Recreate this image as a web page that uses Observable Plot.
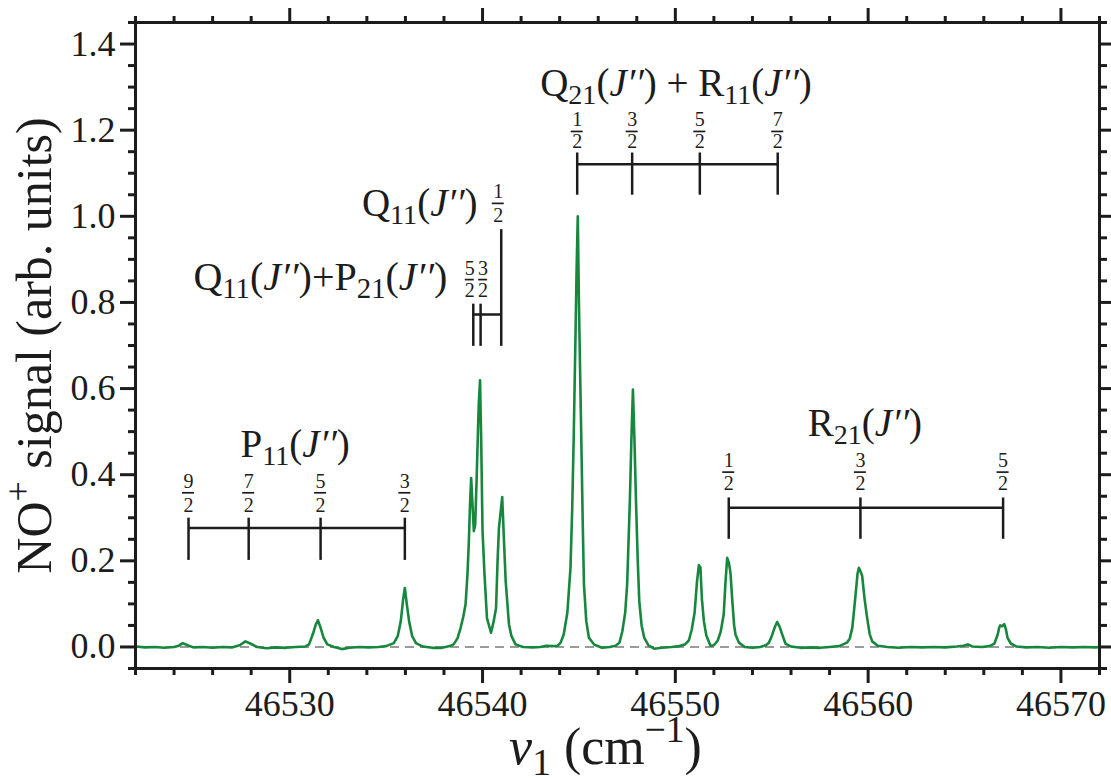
<!DOCTYPE html>
<html><head><meta charset="utf-8">
<script src="https://cdn.jsdelivr.net/npm/d3@7"></script>
<script src="https://cdn.jsdelivr.net/npm/@observablehq/plot@0.6"></script>
<style>body{margin:0;background:#fff}#chart svg{display:block}</style>
</head><body><div id="chart"></div>
<script>
// ---- data ----
const wavenumber = [46522.0,46522.5,46523.0,46523.5,46524.0,46524.25,46524.45,46524.7,46525.0,46525.5,46526.0,46526.5,46527.0,46527.4,46527.7,46527.95,46528.3,46528.8,46529.3,46529.8,46530.3,46530.8,46531.0,46531.2,46531.35,46531.46,46531.6,46531.75,46531.95,46532.3,46532.7,46533.1,46533.6,46534.1,46534.6,46535.0,46535.4,46535.6,46535.76,46535.88,46535.97,46536.07,46536.19,46536.35,46536.55,46536.9,46537.4,46537.9,46538.3,46538.5,46538.7,46538.86,46539.0,46539.12,46539.22,46539.29,46539.35,46539.41,46539.48,46539.55,46539.62,46539.7,46539.8,46539.87,46539.93,46540.0,46540.1,46540.23,46540.44,46540.58,46540.7,46540.78,46540.85,46541.02,46541.1,46541.2,46541.37,46541.5,46541.71,46542.1,46542.6,46543.0,46543.3,46543.6,46543.9,46544.05,46544.21,46544.4,46544.56,46544.65,46544.73,46544.82,46544.88,46544.94,46545.0,46545.06,46545.12,46545.2,46545.26,46545.38,46545.52,46545.8,46546.2,46546.6,46546.9,46547.1,46547.25,46547.4,46547.5,46547.64,46547.72,46547.8,46547.88,46547.96,46548.05,46548.13,46548.25,46548.39,46548.6,46548.9,46549.3,46549.8,46550.2,46550.5,46550.7,46550.85,46551.0,46551.12,46551.22,46551.3,46551.38,46551.48,46551.6,46551.82,46552.0,46552.2,46552.35,46552.51,46552.6,46552.69,46552.78,46552.86,46552.95,46553.05,46553.12,46553.3,46553.6,46554.0,46554.4,46554.7,46554.85,46555.0,46555.15,46555.28,46555.4,46555.55,46555.71,46556.0,46556.5,46557.0,46557.5,46558.0,46558.5,46558.9,46559.05,46559.18,46559.35,46559.45,46559.52,46559.6,46559.69,46559.82,46559.95,46560.08,46560.21,46560.5,46561.0,46561.6,46562.2,46562.8,46563.4,46564.0,46564.6,46564.95,46565.17,46565.4,46565.9,46566.3,46566.55,46566.72,46566.8,46566.85,46566.95,46567.06,46567.15,46567.23,46567.4,46567.7,46568.2,46568.8,46569.4,46570.0,46570.6,46571.2,46571.8,46572.0];
const signal = [0.001,-0.001,0.000,-0.002,0.000,0.003,0.009,0.004,-0.001,0.000,-0.002,0.000,-0.001,0.004,0.013,0.008,0.000,-0.003,-0.001,-0.002,0.000,0.001,0.006,0.030,0.052,0.062,0.045,0.022,0.006,0.000,-0.005,-0.002,0.000,-0.001,0.000,0.002,0.009,0.025,0.060,0.110,0.137,0.100,0.060,0.025,0.009,0.001,-0.002,-0.002,0.002,0.006,0.020,0.044,0.070,0.099,0.170,0.245,0.330,0.392,0.330,0.269,0.285,0.400,0.560,0.619,0.480,0.270,0.170,0.067,0.033,0.060,0.090,0.200,0.276,0.348,0.260,0.153,0.053,0.025,0.006,0.000,-0.001,0.000,0.003,0.002,0.003,0.010,0.029,0.080,0.183,0.320,0.490,0.720,0.880,1.000,0.800,0.640,0.490,0.280,0.145,0.060,0.021,0.005,-0.002,0.000,0.003,0.010,0.036,0.080,0.145,0.338,0.480,0.598,0.480,0.338,0.200,0.106,0.050,0.021,0.004,-0.004,-0.002,0.000,0.002,0.006,0.015,0.040,0.080,0.150,0.190,0.185,0.110,0.060,0.028,0.003,0.004,0.015,0.035,0.076,0.150,0.207,0.195,0.172,0.110,0.050,0.029,0.010,0.000,-0.002,0.000,0.004,0.010,0.025,0.045,0.058,0.048,0.028,0.008,0.001,-0.002,-0.001,-0.002,0.000,0.002,0.010,0.020,0.045,0.122,0.170,0.184,0.176,0.165,0.110,0.067,0.030,0.013,0.003,0.000,-0.002,0.000,-0.001,0.000,-0.001,0.001,0.003,0.006,0.001,0.000,0.002,0.008,0.029,0.045,0.050,0.048,0.053,0.040,0.021,0.008,0.001,-0.001,0.000,-0.002,0.000,-0.001,0.000,-0.001,0.000];

const xMajorTicks = [46530, 46540, 46550, 46560, 46570];
const xMinorTicks = [46522,46524,46526,46528,46532,46534,46536,46538,46542,46544,46546,46548,46552,46554,46556,46558,46562,46564,46566,46568,46572];
const yMajorTicks = [0, 0.2, 0.4, 0.6, 0.8, 1.0, 1.2, 1.4];
const yMinorTicks = [-0.05,0.05,0.1,0.15,0.25,0.3,0.35,0.45,0.5,0.55,0.65,0.7,0.75,0.85,0.9,0.95,1.05,1.1,1.15,1.25,1.3,1.35,1.45];

// line assignments (wavenumber of each rotational line) and J'' numerators (J'' = n/2)
const p11Lines = [46524.75, 46527.87, 46531.6, 46535.97];
const p11Num = ["9", "7", "5", "3"];
const qrLines = [46544.91, 46547.76, 46551.27, 46555.31];
const qrNum = ["1", "3", "5", "7"];
const r21Lines = [46552.77, 46559.6, 46567.0];
const r21Num = ["1", "3", "5"];
const qpLines = [46539.52, 46539.90];
const qpNum = ["5", "3"];
const q11Lines = [46540.97];
const q11Num = ["1"];

const labelP11 = "P_{11}(*J′′*)";
const labelQR = "Q_{21}(*J′′*) + R_{11}(*J′′*)";
const labelR21 = "R_{21}(*J′′*)";
const labelQ11 = "Q_{11}(*J′′*)";
const labelQP = "Q_{11}(*J′′*)+P_{21}(*J′′*)";
const xLabel = "*v*_{1} (cm^{−1})";
const yLabel = "NO^{+} signal (arb. units)";

// ---- chart ----
const spectrum = wavenumber.map((x, i) => ({x, y: signal[i]}));
const ink = "#1c1c1c";
const green = "#17873d";
const pxPerUnit = (1099 - 135) / 50;
const px = 1 / 430.7; // one pixel in y units

function bracket(lines, lo, hi, h) {
  return [
    Plot.ruleX(lines, {x: d => d, y1: lo, y2: hi, stroke: ink, strokeWidth: 2.5}),
    Plot.ruleY([h], {y: d => d, x1: d3.min(lines), x2: d3.max(lines), stroke: ink, strokeWidth: 2.5})
  ];
}
function fraction(lines, nums, yNum, yBar, yDen, halfPx, dx) {
  const hw = halfPx / pxPerUnit;
  return [
    Plot.text(lines, {x: d => d, y: yNum + px, text: (d, i) => nums[i], fontSize: 20, dx, fill: ink, lineAnchor: "middle"}),
    Plot.text(lines, {x: d => d, y: yDen - px, text: () => "2", fontSize: 20, dx, fill: ink, lineAnchor: "middle"}),
    Plot.ruleY(lines, {y: yBar, x1: d => d - hw, x2: d => d + hw, dx, stroke: ink, strokeWidth: 1.7})
  ];
}
function label(x, y, text, anchor = "middle", size = 39) {
  return Plot.text([text], {x: () => x, y: () => y, text: d => d, textAnchor: anchor, lineAnchor: "bottom", fontSize: size, fill: ink});
}

const chart = Plot.plot({
  width: 1111,
  height: 778,
  marginTop: 22,
  marginRight: 12,
  marginBottom: 110,
  marginLeft: 135,
  x: {domain: [46522, 46572], label: null},
  y: {domain: [-0.05, 1.45], label: null},
  style: {fontFamily: "'Liberation Serif', 'Times New Roman', serif", fontSize: "36px", color: ink, background: "#fff"},
  marks: [
    Plot.ruleY([0], {stroke: "#9a9a9a", strokeWidth: 2, strokeDasharray: "9,6"}),
    Plot.line(spectrum, {x: "x", y: "y", stroke: green, strokeWidth: 2.6}),
    ...bracket(p11Lines, 0.201, 0.299, 0.276),
    ...fraction(p11Lines, p11Num, 0.381, 0.358, 0.331, 6, 0),
    label(46530.28, 0.44, labelP11),
    ...bracket(qrLines, 1.049, 1.147, 1.121),
    ...fraction(qrLines, qrNum, 1.222, 1.197, 1.175, 6, 0),
    label(46550.03, 1.28, labelQR),
    ...bracket(r21Lines, 0.25, 0.346, 0.323),
    ...fraction(r21Lines, r21Num, 0.431, 0.406, 0.381, 6, 0),
    label(46559.83, 0.489, labelR21),
    Plot.ruleX(qpLines, {x: d => d, y1: 0.698, y2: 0.796, stroke: ink, strokeWidth: 2.5}),
    Plot.ruleX(q11Lines, {x: d => d, y1: 0.698, y2: 0.969, stroke: ink, strokeWidth: 2.5}),
    Plot.ruleY([0.772], {y: d => d, x1: d3.min(qpLines), x2: d3.max(q11Lines), stroke: ink, strokeWidth: 2.5}),
    ...fraction(qpLines.slice(0, 1), qpNum.slice(0, 1), 0.877, 0.853, 0.830, 4.5, -3.5),
    ...fraction(qpLines.slice(1), qpNum.slice(1), 0.877, 0.853, 0.830, 4.5, 2.5),
    ...fraction(q11Lines, q11Num, 1.056, 1.030, 1.004, 6, -3),
    label(46539.74, 1.0, labelQ11, "end"),
    label(46538.18, 0.83, labelQP, "end", 40),
    Plot.frame({stroke: ink, strokeWidth: 3}),
    Plot.axisX(xMajorTicks, {anchor: "bottom", tickSize: 15, tickPadding: 7, tickFormat: d => String(d), fontSize: 36, strokeWidth: 3, label: null}),
    Plot.axisX(xMinorTicks, {anchor: "bottom", tickSize: 7, tickFormat: () => "", strokeWidth: 3, label: null}),
    Plot.axisX(xMajorTicks, {anchor: "top", tickSize: 15, tickFormat: () => "", strokeWidth: 3, label: null}),
    Plot.axisX(xMinorTicks, {anchor: "top", tickSize: 7, tickFormat: () => "", strokeWidth: 3, label: null}),
    Plot.axisY(yMajorTicks, {anchor: "left", tickSize: 15, tickPadding: 5, tickFormat: d3.format(".1f"), fontSize: 36, strokeWidth: 3, label: null}),
    Plot.axisY(yMinorTicks, {anchor: "left", tickSize: 7, tickFormat: () => "", strokeWidth: 3, label: null}),
    Plot.axisY(yMajorTicks, {anchor: "right", tickSize: 15, tickFormat: () => "", strokeWidth: 3, label: null}),
    Plot.axisY(yMinorTicks, {anchor: "right", tickSize: 7, tickFormat: () => "", strokeWidth: 3, label: null}),
    Plot.text([xLabel], {frameAnchor: "bottom", text: d => d, dy: 79, dx: -12, fontSize: 52, textAnchor: "middle", lineAnchor: "middle", fill: ink}),
    Plot.text([yLabel], {frameAnchor: "left", text: d => d, dx: -101, rotate: -90, fontSize: 50, textAnchor: "middle", lineAnchor: "middle", fill: ink})
  ]
});
document.getElementById("chart").append(chart);

// drop the empty labels of tick-only axes
chart.querySelectorAll("text").forEach(t => { if (t.textContent === "") t.remove(); });

// rich text: _{sub}, ^{sup}, *italic*
function rich(el) {
  const s = el.textContent;
  if (!/(_\{|\^\{|\*)/.test(s)) return;
  const base = parseFloat(getComputedStyle(el).fontSize);
  const runs = [];
  let buf = "", italic = false;
  const flush = () => { if (buf) runs.push({text: buf, italic, kind: "n"}); buf = ""; };
  for (let i = 0; i < s.length; i++) {
    const c = s[i];
    if (c === "*") { flush(); italic = !italic; continue; }
    if ((c === "_" || c === "^") && s[i + 1] === "{") {
      flush();
      const j = s.indexOf("}", i);
      runs.push({text: s.slice(i + 2, j), italic, kind: c === "_" ? "sub" : "sup"});
      i = j; continue;
    }
    buf += c;
  }
  flush();
  el.textContent = "";
  let off = 0;
  for (const r of runs) {
    const t = document.createElementNS("http://www.w3.org/2000/svg", "tspan");
    const target = r.kind === "sub" ? 0.2 * base : r.kind === "sup" ? -0.42 * base : 0;
    if (target !== off) t.setAttribute("dy", (target - off) + "px");
    off = target;
    if (r.kind !== "n") t.setAttribute("font-size", (0.72 * base) + "px");
    if (r.italic) t.setAttribute("font-style", "italic");
    t.textContent = r.text;
    el.appendChild(t);
  }
}
chart.querySelectorAll("text").forEach(rich);
</script></body></html>
